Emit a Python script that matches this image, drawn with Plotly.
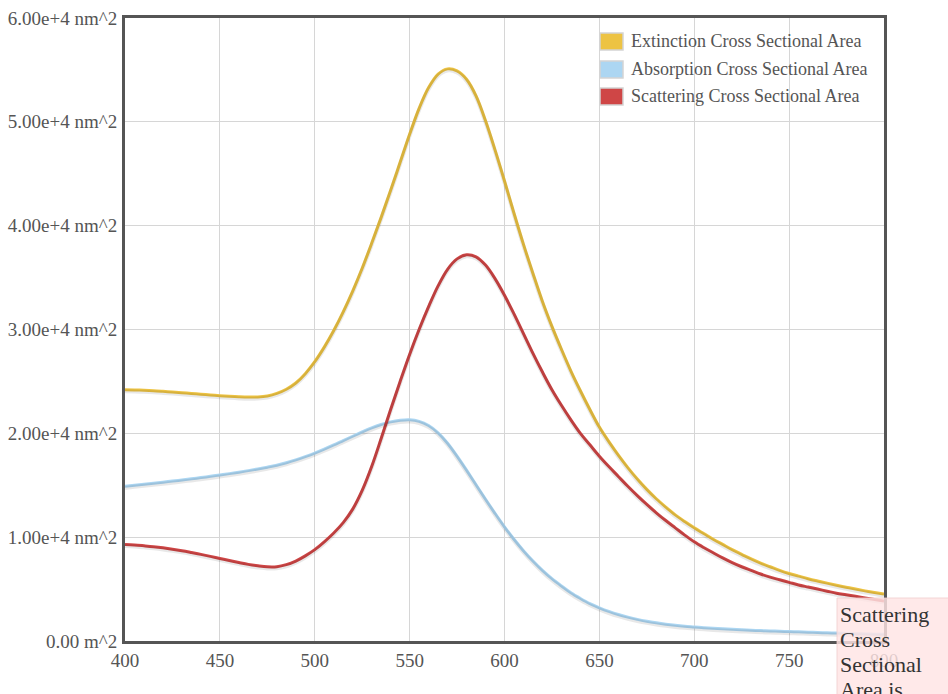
import plotly.graph_objects as go

# Wavelength grid (nm), 5 nm steps
wavelength = [400, 405, 410, 415, 420, 425, 430, 435, 440, 445,
              450, 455, 460, 465, 470, 475, 480, 485, 490, 495,
              500, 505, 510, 515, 520, 525, 530, 535, 540, 545,
              550, 555, 560, 565, 570, 575, 580, 585, 590, 595,
              600, 605, 610, 615, 620, 625, 630, 635, 640, 645,
              650, 655, 660, 665, 670, 675, 680, 685, 690, 695,
              700, 705, 710, 715, 720, 725, 730, 735, 740, 745,
              750, 755, 760, 765, 770, 775, 780, 785, 790, 795, 800]

# Cross sectional areas (nm^2)
extinction = [24200, 24180, 24150, 24110, 24050, 23980, 23910, 23840, 23770, 23700,
              23630, 23570, 23520, 23490, 23500, 23600, 23850, 24250, 24850, 25750,
              26900, 28300, 29900, 31700, 33700, 35900, 38300, 40800, 43400, 46100,
              48800, 51300, 53300, 54600, 55100, 54900, 54100, 52500, 50100, 47300,
              44300, 41200, 38200, 35400, 32700, 30300, 28100, 26000, 24100, 22300,
              20600, 19200, 17900, 16700, 15600, 14600, 13700, 12900, 12150, 11500,
              10900, 10350, 9800, 9300, 8800, 8350, 7900, 7500, 7150, 6800,
              6500, 6250, 6000, 5780, 5570, 5370, 5180, 5000, 4830, 4670, 4520]

absorption = [14900, 15000, 15100, 15200, 15300, 15400, 15510, 15620, 15740, 15860,
              15990, 16120, 16260, 16410, 16570, 16740, 16930, 17170, 17450, 17760,
              18100, 18480, 18880, 19300, 19720, 20130, 20520, 20850, 21100, 21250,
              21300, 21150, 20750, 20050, 19050, 17800, 16450, 15050, 13650, 12300,
              11000, 9800, 8700, 7700, 6800, 6000, 5300, 4650, 4100, 3600,
              3200, 2850, 2550, 2300, 2080, 1900, 1750, 1620, 1510, 1420,
              1350, 1280, 1220, 1170, 1120, 1080, 1040, 1000, 970, 940,
              910, 880, 850, 820, 790, 760, 730, 700, 680, 660, 640]

scattering = [9300, 9250, 9170, 9080, 8970, 8840, 8690, 8520, 8340, 8150,
              7950, 7750, 7560, 7380, 7240, 7140, 7150, 7350, 7700, 8200,
              8800, 9550, 10400, 11400, 12700, 14500, 16800, 19500, 22300, 25000,
              27600, 30000, 32200, 34200, 35800, 36800, 37200, 37000, 36200, 34900,
              33300, 31500, 29600, 27700, 25900, 24200, 22700, 21300, 20000, 18900,
              17800, 16800, 15850, 14900, 14000, 13150, 12350, 11600, 10900, 10200,
              9550, 9000, 8500, 8000, 7550, 7150, 6800, 6450, 6150, 5900,
              5650, 5400, 5200, 5000, 4800, 4600, 4450, 4300, 4150, 4000, 3850]

series_names = ["Extinction Cross Sectional Area",
                "Absorption Cross Sectional Area",
                "Scattering Cross Sectional Area"]
series_values = [extinction, absorption, scattering]
series_colors = ["#edc343", "#acd6f2", "#cf4646"]

x_ticks = [400, 450, 500, 550, 600, 650, 700, 750, 800]
y_ticks = [0, 10000, 20000, 30000, 40000, 50000, 60000]
y_ticktext = ["0.00 m^2", "1.00e+4 nm^2", "2.00e+4 nm^2", "3.00e+4 nm^2",
              "4.00e+4 nm^2", "5.00e+4 nm^2", "6.00e+4 nm^2"]

tooltip_lines = ["Scattering", "Cross", "Sectional", "Area is"]

FONT = "Liberation Serif"
W, H = 948, 694
L, R, T, B = 125, 64, 18, 53
PW, PH = W - L - R, H - T - B


def px_x(px):
    return (px - L) / PW


def px_y(py):
    return (H - B - py) / PH


fig = go.Figure()

# soft drop shadow under each curve (overlay axis shifted down ~1.5 px)
shift = 1.6 * 60000 / PH
for vals in series_values:
    fig.add_trace(go.Scatter(
        x=wavelength, y=vals, mode="lines", yaxis="y2",
        line=dict(color="rgba(0,0,0,0.09)", width=4, shape="spline", smoothing=1.0),
        hoverinfo="skip", showlegend=False))

for name, vals, color in zip(series_names, series_values, series_colors):
    fig.add_trace(go.Scatter(
        x=wavelength, y=vals, mode="lines", name=name,
        line=dict(color=color, width=3, shape="spline", smoothing=1.0),
        showlegend=False))

shapes = []
annotations = []

# legend swatches and labels
leg_y = [41, 69, 96]
for name, color, yy in zip(series_names, series_colors, leg_y):
    shapes.append(dict(type="rect", xref="paper", yref="paper",
                       x0=px_x(600), x1=px_x(623), y0=px_y(yy + 9), y1=px_y(yy - 8),
                       fillcolor=color, line=dict(color="#d4d4d4", width=1.5),
                       layer="above"))
    annotations.append(dict(xref="paper", yref="paper", x=px_x(629), y=px_y(yy),
                            text=name, showarrow=False, xanchor="left", yanchor="middle",
                            font=dict(family=FONT, size=18, color="#555555")))

# hover tooltip box at the lower right
shapes.append(dict(type="rect", xref="paper", yref="paper",
                   x0=px_x(837), x1=px_x(960), y0=px_y(710), y1=px_y(598),
                   fillcolor="rgba(255,228,228,0.82)",
                   line=dict(color="rgba(240,205,205,0.8)", width=1), layer="above"))
for i, line_text in enumerate(tooltip_lines):
    annotations.append(dict(xref="paper", yref="paper", x=px_x(838), y=px_y(614 + 25 * i),
                            text=line_text, showarrow=False, xanchor="left", yanchor="middle",
                            align="left", font=dict(family=FONT, size=22, color="#333333")))

fig.update_layout(
    width=W, height=H,
    margin=dict(l=L, r=R, t=T, b=B),
    paper_bgcolor="white", plot_bgcolor="white",
    showlegend=False,
    xaxis=dict(range=[400, 800], tickvals=x_ticks, ticktext=[str(v) for v in x_ticks],
               showgrid=True, gridcolor="#d6d6d6", gridwidth=1,
               showline=True, linecolor="#555555", linewidth=3, mirror=True,
               zeroline=False, ticks="", ticklabelstandoff=0, automargin=False,
               tickfont=dict(family=FONT, size=19, color="#555555")),
    yaxis=dict(range=[0, 60000], tickvals=y_ticks, ticktext=y_ticktext,
               showgrid=True, gridcolor="#d6d6d6", gridwidth=1,
               showline=True, linecolor="#555555", linewidth=3, mirror=True,
               zeroline=False, ticks="", ticklabelstandoff=1, automargin=False,
               tickfont=dict(family=FONT, size=19, color="#555555")),
    yaxis2=dict(range=[shift, 60000 + shift], overlaying="y", visible=False),
    shapes=shapes,
    annotations=annotations,
)

fig.write_html("out.html")
